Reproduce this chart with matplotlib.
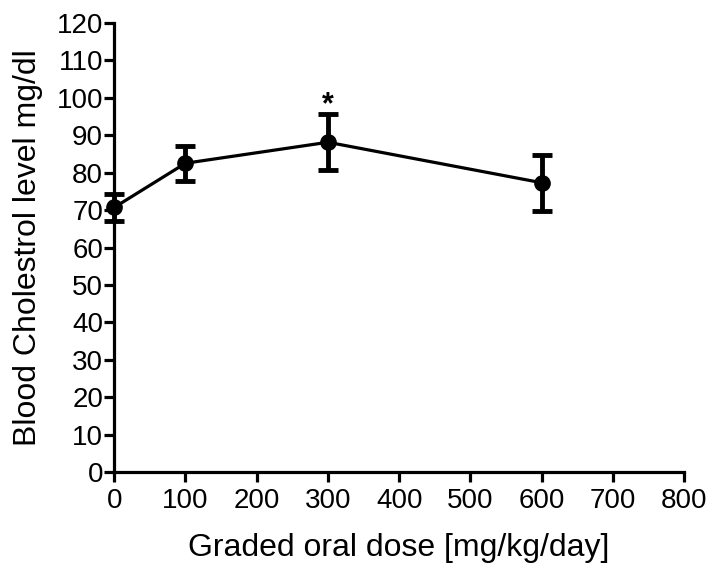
import numpy as np
import matplotlib.pyplot as plt

plt.rcParams['font.family'] = ['Liberation Sans', 'DejaVu Sans']

# dose vs blood cholesterol, mean +/- error
dose = [0, 100, 300, 600]
chol = [70.7, 82.5, 88.1, 77.3]
err = [3.6, 4.7, 7.5, 7.5]
sig_dose = [300]
sig_y = [94.0]

fig = plt.figure(figsize=(7.14, 5.69), dpi=100)
ax = fig.add_axes([0.160, 0.170, 0.798, 0.790])

ax.errorbar(dose, chol, yerr=err, color='black', lw=2.3, marker='o',
            markersize=11, capsize=7, capthick=3.5, elinewidth=3.5, clip_on=False)
for d, y in zip(sig_dose, sig_y):
    ax.text(d, y, '*', ha='center', va='bottom', fontsize=22, fontweight='bold')

ax.set_xlim(0, 800)
ax.set_ylim(0, 120)
ax.set_xticks(np.arange(0, 801, 100))
ax.set_yticks(np.arange(0, 121, 10))
for s in ['top', 'right']:
    ax.spines[s].set_visible(False)
for s in ['left', 'bottom']:
    ax.spines[s].set_linewidth(2.3)
ax.tick_params(width=2.3, length=7, labelsize=20, pad=1)
ax.tick_params(axis='x', pad=4)
ax.set_xlabel('Graded oral dose [mg/kg/day]', fontsize=23, labelpad=14)
ax.set_ylabel('Blood Cholestrol level mg/dl', fontsize=23, labelpad=10)

fig.savefig('out.png')
